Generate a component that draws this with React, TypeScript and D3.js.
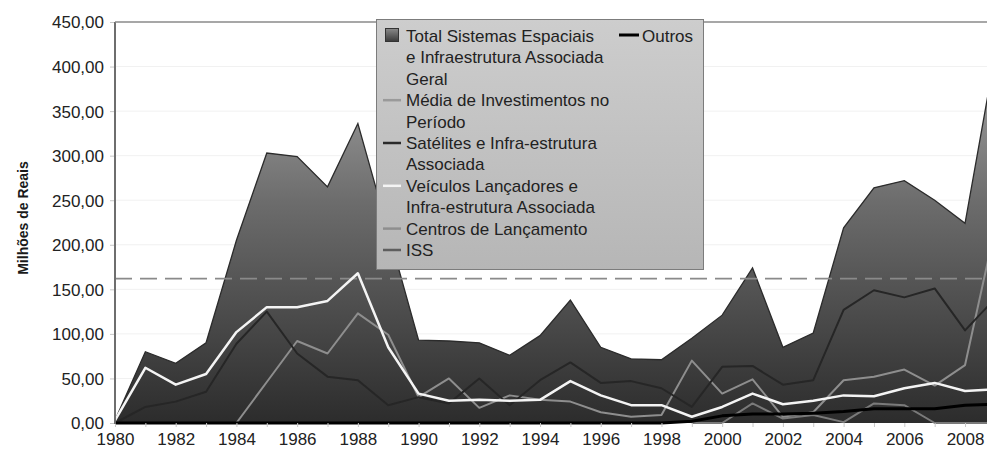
import React, { useEffect, useRef } from "react";
import * as d3 from "d3";

// anos do eixo x
const years = [
  1980, 1981, 1982, 1983, 1984, 1985, 1986, 1987, 1988, 1989,
  1990, 1991, 1992, 1993, 1994, 1995, 1996, 1997, 1998, 1999,
  2000, 2001, 2002, 2003, 2004, 2005, 2006, 2007, 2008, 2009,
];

// Total Sistemas Espaciais e Infraestrutura Associada Geral
const totalGeral = [
  3, 80, 67, 90, 205, 303, 299, 265, 336, 215,
  93, 92, 90, 76, 98, 138, 85, 72, 71, 95,
  121, 174, 85, 101, 219, 264, 272, 250, 224, 415,
];

const satelites = [
  0, 18, 24, 35, 89, 125, 78, 52, 48, 20,
  29, 22, 50, 20, 48, 68, 45, 47, 39, 18,
  63, 64, 43, 48, 127, 149, 141, 151, 104, 140,
];

const veiculos = [
  3, 62, 43, 55, 102, 130, 130, 137, 168, 85,
  33, 25, 26, 25, 26, 47, 31, 20, 20, 7,
  18, 33, 21, 25, 31, 30, 39, 45, 36, 38,
];

// começa em 1984
const centrosAnos = years.slice(4);
const centros = [
  0, 46, 92, 78, 123, 99,
  29, 50, 17, 31, 26, 24, 12, 7, 9, 70,
  33, 49, 7, 12, 48, 52, 60, 42, 65, 220,
];

// começa em 1999
const issAnos = years.slice(19);
const iss = [0, 0, 22, 5, 9, 1, 22, 20, 0, 0, 0];

const outros = [
  0, 0, 0, 0, 0, 0, 0, 0, 0, 0,
  0, 0, 0, 0, 0, 0, 0, 0, 0, 2,
  8, 10, 10, 11, 13, 16, 16, 16, 20, 21,
];

const mediaPeriodo = 162;

const yTicks = [0, 50, 100, 150, 200, 250, 300, 350, 400, 450];
const xTickLabels = [1980, 1982, 1984, 1986, 1988, 1990, 1992, 1994, 1996, 1998, 2000, 2002, 2004, 2006, 2008];

const legendItems = [
  { label: ["Total  Sistemas Espaciais", "e Infraestrutura Associada", "Geral"], kind: "area", color: "" },
  { label: ["Média de Investimentos no", "Período"], kind: "line", color: "#9a9a9a" },
  { label: ["Satélites e Infra-estrutura", "Associada"], kind: "line", color: "#2a2a2a" },
  { label: ["Veículos Lançadores e", "Infra-estrutura Associada"], kind: "line", color: "#f4f4f4" },
  { label: ["Centros de Lançamento"], kind: "line", color: "#8e8e8e" },
  { label: ["ISS"], kind: "line", color: "#5e5e5e" },
];

const W = 987;
const H = 450;
const font = "'Liberation Sans', Arial, sans-serif";

const App = () => {
  const ref = useRef<SVGSVGElement>(null);

  useEffect(() => {
    const svg = d3.select(ref.current);
    svg.selectAll("*").remove();

    const left = 115;
    const top = 22;
    const bottom = 423;

    const x = d3.scaleLinear().domain([1980, 2009]).range([left, 995.4]);
    const y = d3.scaleLinear().domain([0, 450]).range([bottom, top]);

    const defs = svg.append("defs");
    const ag = defs
      .append("linearGradient")
      .attr("id", "areaGrad")
      .attr("gradientUnits", "userSpaceOnUse")
      .attr("x1", 0).attr("x2", 0)
      .attr("y1", top).attr("y2", bottom);
    ag.append("stop").attr("offset", "0%").attr("stop-color", "#b2b2b2");
    ag.append("stop").attr("offset", "45%").attr("stop-color", "#6c6c6c");
    ag.append("stop").attr("offset", "100%").attr("stop-color", "#2c2c2c");

    const lg = defs
      .append("linearGradient")
      .attr("id", "legGrad")
      .attr("x1", 0).attr("x2", 0).attr("y1", 0).attr("y2", 1);
    lg.append("stop").attr("offset", "0%").attr("stop-color", "#cdcdcd");
    lg.append("stop").attr("offset", "100%").attr("stop-color", "#b6b6b6");

    const sg = defs
      .append("linearGradient")
      .attr("id", "swGrad")
      .attr("x1", 0).attr("x2", 0).attr("y1", 0).attr("y2", 1);
    sg.append("stop").attr("offset", "0%").attr("stop-color", "#8a8a8a");
    sg.append("stop").attr("offset", "100%").attr("stop-color", "#3a3a3a");

    // grade
    svg
      .append("g")
      .selectAll("line")
      .data(yTicks.slice(1, -1))
      .enter()
      .append("line")
      .attr("x1", left)
      .attr("x2", W)
      .attr("y1", (d) => y(d))
      .attr("y2", (d) => y(d))
      .attr("stroke", "#f1f1f1");

    // área total
    const area = d3
      .area<number>()
      .x((_, i) => x(years[i]))
      .y0(bottom)
      .y1((d) => y(d));
    svg.append("path").datum(totalGeral).attr("d", area).attr("fill", "url(#areaGrad)");
    const topLine = d3
      .line<number>()
      .x((_, i) => x(years[i]))
      .y((d) => y(d));
    svg
      .append("path")
      .datum(totalGeral)
      .attr("d", topLine)
      .attr("fill", "none")
      .attr("stroke", "#2b2b2b")
      .attr("stroke-width", 1.3);

    // média
    svg
      .append("line")
      .attr("x1", left)
      .attr("x2", W)
      .attr("y1", y(mediaPeriodo))
      .attr("y2", y(mediaPeriodo))
      .attr("stroke", "#8a8a8a")
      .attr("stroke-width", 1.6)
      .attr("stroke-dasharray", "17,8");

    const drawLine = (xs: number[], vals: number[], color: string, w: number) => {
      const gen = d3
        .line<number>()
        .x((_, i) => x(xs[i]))
        .y((d) => y(d));
      svg
        .append("path")
        .datum(vals)
        .attr("d", gen)
        .attr("fill", "none")
        .attr("stroke", color)
        .attr("stroke-width", w)
        .attr("stroke-linejoin", "round");
    };

    drawLine(issAnos, iss, "#7a7a7a", 2);
    drawLine(centrosAnos, centros, "#8e8e8e", 2);
    drawLine(years, satelites, "#262626", 2);
    drawLine(years, veiculos, "#f4f4f4", 2.5);
    drawLine(years, outros, "#000", 3);

    // eixos
    const yAxis = svg
      .append("g")
      .attr("transform", `translate(${left},0)`)
      .call(d3.axisLeft(y).tickValues(yTicks).tickSize(5).tickFormat((d) => d3.format(".2f")(d as number).replace(".", ",")));
    yAxis.select(".domain").remove();
    yAxis.selectAll("line").attr("stroke", "#c8c8c8");
    yAxis
      .selectAll("text")
      .attr("x", -11)
      .attr("dy", "0.35em")
      .attr("font-family", font)
      .attr("font-size", 17)
      .attr("fill", "#222");

    const xAxis = svg
      .append("g")
      .attr("transform", `translate(0,${bottom})`)
      .call(d3.axisBottom(x).tickValues(years).tickSize(4).tickFormat((d) => (xTickLabels.includes(d as number) ? String(d) : "")));
    xAxis.select(".domain").remove();
    xAxis.selectAll("line").attr("stroke", "#c8c8c8");
    xAxis
      .selectAll("text")
      .attr("y", 10)
      .attr("font-family", font)
      .attr("font-size", 17)
      .attr("fill", "#222");

    // moldura
    svg.append("line").attr("x1", left).attr("x2", left).attr("y1", top).attr("y2", bottom + 1).attr("stroke", "#6e6e6e").attr("stroke-width", 2);
    svg.append("line").attr("x1", left).attr("x2", W).attr("y1", top).attr("y2", top).attr("stroke", "#8a8a8a").attr("stroke-width", 1.5);

    // título do eixo y
    svg
      .append("text")
      .attr("transform", `translate(28,218) rotate(-90)`)
      .attr("text-anchor", "middle")
      .attr("font-family", font)
      .attr("font-size", 14)
      .attr("font-weight", "bold")
      .attr("fill", "#1a1a1a")
      .text("Milhões de Reais");

    // legenda
    const leg = svg.append("g");
    leg
      .append("rect")
      .attr("x", 376.5)
      .attr("y", 19.5)
      .attr("width", 327)
      .attr("height", 250)
      .attr("fill", "url(#legGrad)")
      .attr("stroke", "#7c7c7c");

    const lineH = 21.4;
    let row = 0;
    legendItems.forEach((it) => {
      const base = 42 + row * lineH;
      if (it.kind === "area") {
        leg.append("rect").attr("x", 385.5).attr("y", base - 13.5).attr("width", 13).attr("height", 13).attr("fill", "url(#swGrad)").attr("stroke", "#333");
      } else {
        leg.append("line").attr("x1", 383).attr("x2", 401).attr("y1", base - 6).attr("y2", base - 6).attr("stroke", it.color).attr("stroke-width", 2.5);
      }
      it.label.forEach((t, j) => {
        leg
          .append("text")
          .attr("x", 406)
          .attr("y", base + j * lineH)
          .attr("font-family", font)
          .attr("font-size", 17)
          .attr("fill", "#222")
          .text(t);
      });
      row += it.label.length;
    });

    leg.append("line").attr("x1", 619).attr("x2", 639).attr("y1", 35).attr("y2", 35).attr("stroke", "#000").attr("stroke-width", 3);
    leg
      .append("text")
      .attr("x", 642)
      .attr("y", 42)
      .attr("font-family", font)
      .attr("font-size", 17)
      .attr("fill", "#222")
      .text("Outros");
  }, []);

  return (
    <svg
      ref={ref}
      width={W}
      height={H}
      style={{ position: "absolute", left: 0, top: 0, background: "#fff", overflow: "hidden" }}
    />
  );
};

export default App;
